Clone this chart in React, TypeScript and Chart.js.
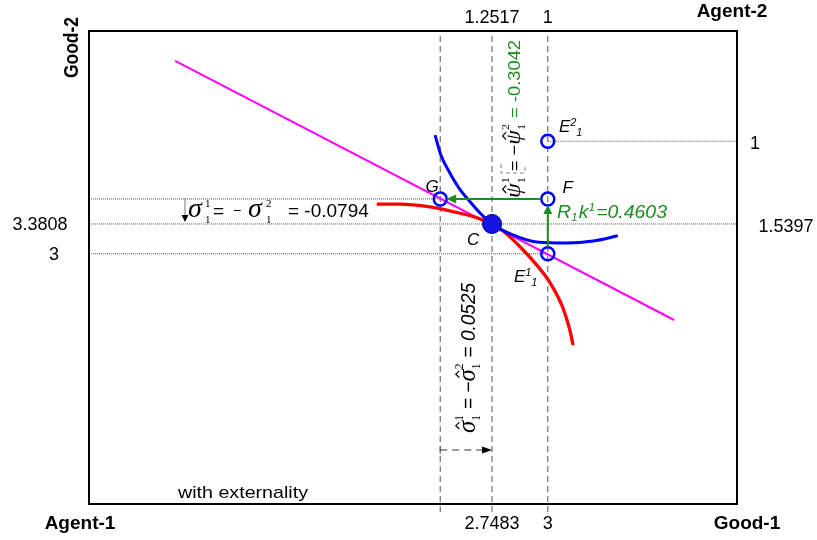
import React, { useEffect, useRef } from 'react';
import { Chart, registerables } from 'chart.js';

Chart.register(...registerables);

// ---- data (box units: Good-1 horizontal 0..10, Good-2 vertical 0..10) ----
const xG = 5.42, xC = 6.22, xE = 7.08;
const yG = 6.45, yC = 5.92, yE1 = 5.29, yE2 = 7.67;

const budgetX = [1.33, 9.03];
const budgetY = [9.37, 3.89];

const agent2X = [5.34, 5.43, 5.56, 5.71, 5.88, 6.05, 6.22, 6.54, 6.91, 7.38, 7.78, 8.16];
const agent2Y = [7.80, 7.38, 7.02, 6.68, 6.39, 6.13, 5.92, 5.69, 5.54, 5.52, 5.56, 5.67];

const agent1X = [4.44, 4.80, 5.26, 5.65, 5.99, 6.22, 6.39, 6.70, 6.91, 7.11, 7.31, 7.42, 7.47];
const agent1Y = [6.34, 6.34, 6.28, 6.17, 6.05, 5.92, 5.77, 5.37, 5.05, 4.69, 4.16, 3.68, 3.36];

const ringX = [xG, xE, xE, xE];
const ringY = [yG, yG, yE1, yE2];

const bottomTicks = [xC, xE];
const bottomLabels = ['2.7483', '3'];
const topLabels = ['1.2517', '1'];
const leftTicks = [yC, yE1];
const leftLabels = ['3.3808', '3'];
const rightTicks = [yE2, yC];
const rightLabels = ['1', '1.5397'];

const psiValue = '-0.3042';
const sigmaValue = '-0.0794';
const sigmaHatValue = '0.0525';
const rkValue = '0.4603';

// ---- drawing helpers ----
const SANS = '"Liberation Sans", Arial, Helvetica, sans-serif';
const SERIF = '"Liberation Serif", "Times New Roman", serif';
const GREEN = '#1e8c1e';

type Part = {
  t?: string; sup?: string; sub?: string; font: string; color?: string;
  hat?: number; supDy?: number; subDy?: number; subDx?: number; at?: number; dy?: number;
};

function partWidth(ctx: CanvasRenderingContext2D, p: Part) {
  ctx.font = p.font;
  if (p.t !== undefined) return ctx.measureText(p.t).width;
  const a = p.sup ? ctx.measureText(p.sup).width : 0;
  const b = p.sub ? ctx.measureText(p.sub).width + (p.subDx || 0) : 0;
  return Math.max(a, b) + 1;
}
function richWidth(ctx: CanvasRenderingContext2D, parts: Part[]) {
  let cx = 0;
  for (const p of parts) { if (p.at !== undefined) cx = p.at; cx += partWidth(ctx, p); }
  return cx;
}
function drawRich(ctx: CanvasRenderingContext2D, parts: Part[], x: number, y: number) {
  let cx = 0;
  ctx.textBaseline = 'alphabetic';
  ctx.textAlign = 'left';
  for (const p of parts) {
    if (p.at !== undefined) cx = p.at;
    const w = partWidth(ctx, p);
    ctx.font = p.font;
    ctx.fillStyle = p.color || '#000';
    if (p.t !== undefined) {
      ctx.fillText(p.t, x + cx, y + (p.dy || 0));
      if (p.hat) {
        const c = x + cx + w * 0.6;
        const top = y - p.hat * 0.47 - 7;
        ctx.save();
        ctx.strokeStyle = p.color || '#000';
        ctx.lineWidth = 1.2;
        ctx.setLineDash([]);
        ctx.beginPath();
        ctx.moveTo(c - 3.5, top + 3.5);
        ctx.lineTo(c, top);
        ctx.lineTo(c + 3.5, top + 3.5);
        ctx.stroke();
        ctx.restore();
      }
    } else {
      if (p.sup) ctx.fillText(p.sup, x + cx, y + (p.supDy ?? -9));
      if (p.sub) ctx.fillText(p.sub, x + cx + (p.subDx || 0), y + (p.subDy ?? 5));
    }
    cx += w;
  }
}
function drawFitted(ctx: CanvasRenderingContext2D, parts: Part[], x: number, y: number, target?: number) {
  const nat = richWidth(ctx, parts);
  const s = target ? target / nat : 1;
  ctx.save();
  ctx.translate(x, y);
  ctx.scale(s, 1);
  drawRich(ctx, parts, 0, 0);
  ctx.restore();
}
function drawRotated(ctx: CanvasRenderingContext2D, parts: Part[], bx: number, by: number, target: number) {
  const nat = richWidth(ctx, parts);
  ctx.save();
  ctx.translate(bx, by);
  ctx.rotate(-Math.PI / 2);
  ctx.scale(target / nat, 1);
  drawRich(ctx, parts, 0, 0);
  ctx.restore();
}
function tri(ctx: CanvasRenderingContext2D, pts: number[][], color: string) {
  ctx.fillStyle = color;
  ctx.beginPath();
  ctx.moveTo(pts[0][0], pts[0][1]);
  ctx.lineTo(pts[1][0], pts[1][1]);
  ctx.lineTo(pts[2][0], pts[2][1]);
  ctx.closePath();
  ctx.fill();
}
function seg(ctx: CanvasRenderingContext2D, x1: number, y1: number, x2: number, y2: number, color: string, w: number, dash: number[] = []) {
  ctx.save();
  ctx.strokeStyle = color;
  ctx.lineWidth = w;
  ctx.setLineDash(dash);
  ctx.beginPath();
  ctx.moveTo(x1, y1);
  ctx.lineTo(x2, y2);
  ctx.stroke();
  ctx.restore();
}

const overlay = {
  id: 'overlay',
  afterDatasetsDraw(chart: any) {
    const ctx: CanvasRenderingContext2D = chart.ctx;
    const xs = chart.scales.x, ys = chart.scales.y;
    const px = (v: number) => xs.getPixelForValue(v);
    const py = (v: number) => ys.getPixelForValue(v);
    const a = chart.chartArea;
    ctx.save();

    // frame
    ctx.strokeStyle = '#000';
    ctx.lineWidth = 2;
    ctx.setLineDash([]);
    ctx.strokeRect(a.left, a.top, a.right - a.left, a.bottom - a.top);

    // green arrows
    const gx = px(xG), ex = px(xE), fy = py(yG), e1y = py(yE1);
    seg(ctx, ex, e1y - 7, ex, fy + 14, GREEN, 2);
    tri(ctx, [[ex, fy + 6], [ex - 4.5, fy + 15], [ex + 4.5, fy + 15]], GREEN);
    seg(ctx, ex - 7, fy, gx + 15, fy, GREEN, 2);
    tri(ctx, [[gx + 6, fy], [gx + 16, fy - 4.5], [gx + 16, fy + 4.5]], GREEN);

    // sigma arrow (vertical, small)
    seg(ctx, 185, py(yG) - 1, 185, py(yC) - 9, '#777', 1);
    tri(ctx, [[185, py(yC) - 2], [181.5, py(yC) - 9], [188.5, py(yC) - 9]], '#000');

    // sigma-hat dimension arrow
    const cx = px(xC);
    seg(ctx, gx, 450, cx - 9, 450, '#333', 1, [7, 5]);
    seg(ctx, gx, 446, gx, 454, '#555', 1);
    tri(ctx, [[cx, 450], [cx - 10, 446.5], [cx - 10, 453.5]], '#000');

    // psi bracket
    ctx.save();
    ctx.strokeStyle = '#888';
    ctx.lineWidth = 1;
    ctx.setLineDash([4, 3]);
    ctx.beginPath();
    ctx.moveTo(501, 164); ctx.lineTo(501, 173); ctx.lineTo(525, 173); ctx.lineTo(525, 164);
    ctx.stroke();
    ctx.restore();

    // tick labels
    ctx.fillStyle = '#000';
    ctx.font = `18px ${SANS}`;
    ctx.textAlign = 'center';
    ctx.textBaseline = 'alphabetic';
    bottomTicks.forEach((v, i) => ctx.fillText(bottomLabels[i], px(v), 529));
    bottomTicks.forEach((v, i) => ctx.fillText(topLabels[i], px(v), 23));
    ctx.textBaseline = 'middle';
    const leftCenters = [40, 54];
    leftTicks.forEach((v, i) => ctx.fillText(leftLabels[i], leftCenters[i], py(v) + 1));
    const rightCenters = [755, 786];
    rightTicks.forEach((v, i) => ctx.fillText(rightLabels[i], rightCenters[i], py(v) + 3));

    // axis titles
    ctx.font = `bold 19px ${SANS}`;
    ctx.textBaseline = 'alphabetic';
    ctx.fillText('Agent-2', 732, 17);
    ctx.fillText('Agent-1', 80, 529);
    ctx.fillText('Good-1', 747, 529);
    drawRotated(ctx, [{ t: 'Good-2', font: `bold 20px ${SANS}` }], 78, 78, 61);

    // point labels
    const it = `italic 17px ${SANS}`;
    ctx.font = it;
    ctx.textAlign = 'center';
    ctx.fillText('G', gx - 8, fy - 7);
    ctx.fillText('F', ex + 20, fy - 6);
    ctx.fillText('C', cx - 19, py(yC) + 21);
    drawRich(ctx, [
      { t: 'E', font: it },
      { sup: '2', sub: '1', font: `italic 11px ${SANS}`, supDy: -6, subDy: 4, subDx: 6 },
    ], 559, 132);
    drawRich(ctx, [
      { t: 'E', font: it },
      { sup: '1', sub: '1', font: `italic 11px ${SANS}`, supDy: -6, subDy: 4, subDx: 6 },
    ], 514, 282);

    // R1k1 label
    drawFitted(ctx, [
      { t: 'R', font: `italic 18px ${SANS}`, color: GREEN },
      { sub: '1', font: `italic 11px ${SANS}`, color: GREEN, subDy: 3 },
      { t: 'k', font: `italic 18px ${SANS}`, color: GREEN },
      { sup: '1', font: `italic 11px ${SANS}`, color: GREEN, supDy: -7 },
      { t: '=' + rkValue, font: `italic 18px ${SANS}`, color: GREEN },
    ], 557, 218, 110);

    // sigma text (horizontal)
    const sg = `italic 28px ${SERIF}`;
    const sc = `11px ${SERIF}`;
    drawRich(ctx, [
      { t: 'σ', font: sg, at: 0 },
      { sup: '1', sub: '1', font: sc, supDy: -10, subDy: 6, at: 17 },
      { t: '=', font: `19px ${SANS}`, at: 25 },
      { t: '−', font: `14px ${SANS}`, at: 45, dy: -2 },
      { t: 'σ', font: sg, at: 60 },
      { sup: '2', sub: '1', font: sc, supDy: -10, subDy: 6, at: 78 },
      { t: '= ' + sigmaValue, font: `19px ${SANS}`, at: 100 },
    ], 188, 217);

    // sigma-hat text (rotated)
    const sh = `italic 26px ${SERIF}`;
    const s2 = `12px ${SERIF}`;
    drawRotated(ctx, [
      { t: 'σ', font: sh, hat: 26 },
      { sup: '1', sub: '1', font: s2, supDy: -12, subDy: 5 },
      { t: ' = ', font: `20px ${SANS}` },
      { t: '−', font: `20px ${SANS}` },
      { t: 'σ', font: sh, hat: 26 },
      { sup: '2', sub: '1', font: s2, supDy: -12, subDy: 5 },
      { t: ' = ', font: `20px ${SANS}` },
      { t: sigmaHatValue, font: `italic 20px ${SANS}` },
    ], 475, 433, 150);

    // psi text (rotated)
    const ps = `italic 22px ${SERIF}`;
    const s3 = `11px ${SERIF}`;
    drawRotated(ctx, [
      { t: 'ψ', font: ps, hat: 22 },
      { sup: '1', sub: '1', font: s3, supDy: -11, subDy: 5 },
      { t: ' = ', font: `17px ${SANS}` },
      { t: '−', font: `17px ${SANS}` },
      { t: 'ψ', font: ps, hat: 22 },
      { sup: '2', sub: '1', font: s3, supDy: -11, subDy: 5 },
      { t: ' = ' + psiValue, font: `17px ${SANS}`, color: GREEN },
    ], 520, 198, 158);

    // caption
    drawFitted(ctx, [{ t: 'with externality', font: `17px ${SANS}` }], 178, 498, 130);

    ctx.restore();
  },
};

function pts(xs: number[], ys: number[]) {
  return xs.map((x, i) => ({ x, y: ys[i] }));
}

export default function App() {
  const ref = useRef<HTMLCanvasElement>(null);
  useEffect(() => {
    const vLine = (x: number) => ({
      data: [{ x, y: -0.17 }, { x, y: 10 }],
      showLine: true, borderColor: '#555', borderWidth: 1, borderDash: [6, 4],
      pointRadius: 0, clip: false as any, order: 5,
    });
    const hLine = (x1: number, x2: number, y: number) => ({
      data: [{ x: x1, y }, { x: x2, y }],
      showLine: true, borderColor: '#555', borderWidth: 1, borderDash: [1, 1],
      pointRadius: 0, order: 5,
    });
    const chart = new Chart(ref.current as HTMLCanvasElement, {
      type: 'scatter',
      data: {
        datasets: [
          {
            data: pts(ringX, ringY), pointRadius: 6.5, pointHoverRadius: 6.5,
            pointBorderWidth: 2.5, pointBorderColor: '#0000ff',
            pointBackgroundColor: 'rgba(255,255,255,0)', showLine: false, order: 0,
          } as any,
          {
            data: [{ x: xC, y: yC }], pointRadius: 9.5, pointHoverRadius: 9.5,
            pointBorderWidth: 1, pointBorderColor: '#00008b',
            pointBackgroundColor: '#1414e0', showLine: false, order: 0,
          },
          {
            data: pts(agent2X, agent2Y), showLine: true, borderColor: '#0000ff', borderWidth: 3,
            pointRadius: 0, cubicInterpolationMode: 'monotone', order: 1,
          },
          {
            data: pts(agent1X, agent1Y), showLine: true, borderColor: '#ff0000', borderWidth: 3.3,
            pointRadius: 0, cubicInterpolationMode: 'monotone', order: 1,
          },
          {
            data: pts(budgetX, budgetY), showLine: true, borderColor: '#ff00ff', borderWidth: 2,
            pointRadius: 0, order: 2,
          },
          vLine(xG), vLine(xC), vLine(xE),
          hLine(0, xG, yG), hLine(0, 10, yC), hLine(0, xE, yE1), hLine(xE, 10, yE2),
        ] as any,
      },
      options: {
        responsive: false,
        animation: false,
        devicePixelRatio: 1,
        layout: { padding: { left: 89, top: 31, right: 80, bottom: 36 } },
        plugins: { legend: { display: false }, tooltip: { enabled: false } },
        events: [],
        scales: {
          x: { type: 'linear', min: 0, max: 10, display: false },
          y: { type: 'linear', min: 0, max: 10, display: false },
        },
      },
      plugins: [overlay],
    });
    return () => chart.destroy();
  }, []);
  return (
    <div style={{ position: 'absolute', left: 0, top: 0, width: 817, height: 540, background: '#fff' }}>
      <canvas ref={ref} width={817} height={540} style={{ display: 'block', width: 817, height: 540 }} />
    </div>
  );
}
